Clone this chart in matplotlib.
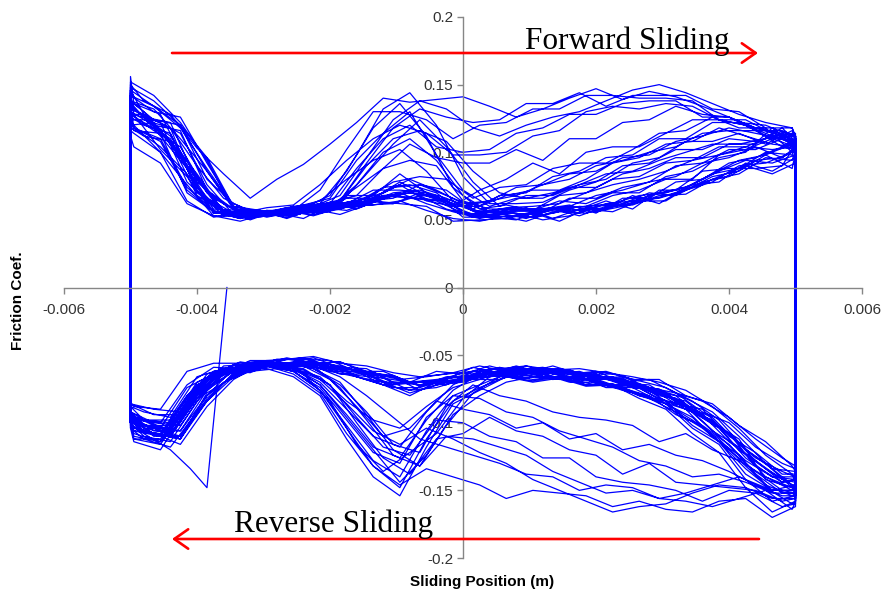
import matplotlib.pyplot as plt

plt.rcParams['font.family'] = 'Liberation Sans'

# sliding positions (m) sampled along a stroke; the logger's sample points
# drift between strokes, so three position sets are used in turn
pos_a = [-0.005, -0.0048, -0.0044, -0.004, -0.0036, -0.0032, -0.0028, -0.0024, -0.002,
         -0.0016, -0.0012, -0.0008, -0.0004, 0.0, 0.0004, 0.0008, 0.0012, 0.0016, 0.002,
         0.0024, 0.0028, 0.0032, 0.0036, 0.004, 0.0044, 0.0048, 0.005]
pos_b = [-0.005, -0.00465, -0.00425, -0.00385, -0.00345, -0.00305, -0.00265, -0.00225, -0.00185,
         -0.00145, -0.00105, -0.00065, -0.00025, 0.00015, 0.00055, 0.00095, 0.00135, 0.00175, 0.00215,
         0.00255, 0.00295, 0.00335, 0.00375, 0.00415, 0.00455, 0.00495, 0.005]
pos_c = [-0.005, -0.00495, -0.00455, -0.00415, -0.00375, -0.00335, -0.00295, -0.00255, -0.00215,
         -0.00175, -0.00135, -0.00095, -0.00055, -0.00015, 0.00025, 0.00065, 0.00105, 0.00145, 0.00185,
         0.00225, 0.00265, 0.00305, 0.00345, 0.00385, 0.00425, 0.00465, 0.005]
pos_sets = [pos_a, pos_b, pos_c]

# start of the run (stroke begins mid-track, moving towards -x)
start_pos = [-0.00355, -0.00385, -0.0041, -0.0044, -0.0048, -0.005]
start_mu = [0, -148, -134, -120, -108, -98]

# friction coefficient x1000, forward strokes in run order
fwd_mu = [
    [150, 138, 128, 103, 84, 66, 80, 91, 106, 122, 140, 137, 139, 141, 134, 126, 132, 140, 147, 139, 145, 141, 134, 126, 118, 112, 108],
    [128, 116, 104, 70, 58, 52, 57, 53, 59, 61, 68, 66, 64, 52, 55, 51, 58, 53, 60, 61, 68, 69, 80, 84, 96, 94, 102],
    [140, 134, 112, 88, 55, 56, 53, 60, 62, 86, 118, 136, 112, 74, 58, 61, 57, 68, 70, 80, 82, 92, 94, 104, 104, 112, 106],
    [135, 126, 122, 78, 62, 51, 56, 57, 62, 63, 74, 76, 70, 55, 52, 50, 58, 61, 55, 66, 66, 78, 80, 92, 96, 104, 102],
    [120, 122, 96, 66, 55, 57, 51, 58, 54, 61, 62, 68, 58, 53, 53, 49, 56, 57, 64, 58, 72, 72, 82, 86, 98, 88, 100],
    [116, 114, 100, 64, 52, 55, 53, 54, 57, 60, 61, 64, 57, 51, 49, 53, 52, 56, 55, 60, 63, 68, 74, 82, 90, 84, 92],
    [132, 128, 106, 80, 57, 52, 56, 59, 68, 98, 132, 144, 120, 82, 62, 62, 63, 72, 78, 90, 92, 102, 102, 110, 108, 114, 108],
    [142, 130, 126, 92, 60, 56, 57, 54, 58, 64, 66, 76, 68, 60, 54, 59, 51, 58, 58, 68, 62, 74, 84, 94, 98, 106, 108],
    [112, 104, 92, 62, 53, 49, 55, 55, 59, 57, 64, 62, 60, 49, 50, 51, 55, 49, 58, 56, 64, 64, 76, 78, 92, 86, 96],
    [126, 120, 114, 72, 53, 53, 55, 58, 59, 76, 100, 110, 94, 68, 56, 57, 56, 66, 66, 74, 78, 90, 92, 102, 102, 110, 104],
    [138, 132, 110, 86, 59, 53, 58, 56, 60, 62, 70, 72, 66, 57, 56, 54, 59, 55, 62, 64, 70, 74, 84, 88, 100, 98, 108],
    [130, 128, 102, 82, 55, 54, 56, 60, 55, 68, 68, 84, 70, 62, 55, 56, 57, 64, 62, 70, 70, 82, 86, 96, 100, 118, 104],
    [146, 128, 118, 90, 66, 56, 55, 51, 61, 60, 68, 66, 64, 55, 54, 55, 50, 53, 60, 62, 70, 68, 78, 82, 94, 96, 104],
    [148, 138, 120, 96, 60, 57, 53, 59, 62, 84, 106, 124, 104, 78, 60, 68, 68, 76, 80, 92, 96, 108, 108, 114, 106, 116, 110],
    [124, 118, 110, 74, 57, 52, 55, 58, 64, 80, 94, 102, 86, 64, 54, 59, 60, 62, 70, 76, 80, 86, 94, 98, 104, 102, 104],
    [124, 124, 118, 70, 57, 50, 57, 57, 63, 58, 66, 70, 68, 52, 52, 53, 58, 58, 56, 60, 68, 72, 86, 88, 88, 90, 106],
    [132, 124, 114, 76, 54, 55, 52, 57, 58, 64, 62, 70, 62, 54, 58, 52, 55, 60, 58, 64, 66, 72, 78, 90, 92, 100, 100],
    [136, 118, 104, 84, 58, 57, 52, 56, 56, 66, 66, 78, 68, 64, 56, 58, 58, 59, 60, 68, 72, 80, 80, 98, 102, 110, 104],
    [118, 112, 108, 68, 56, 54, 54, 55, 63, 68, 88, 94, 90, 64, 58, 58, 58, 60, 68, 72, 78, 82, 92, 96, 104, 96, 102],
    [142, 134, 118, 88, 60, 55, 56, 58, 64, 90, 110, 116, 108, 86, 70, 66, 70, 76, 84, 86, 94, 100, 106, 106, 110, 114, 108],
    [126, 118, 108, 72, 56, 51, 55, 58, 55, 62, 64, 70, 62, 56, 51, 55, 54, 58, 60, 62, 68, 70, 76, 86, 94, 92, 98],
    [138, 130, 108, 84, 56, 53, 57, 61, 66, 94, 114, 130, 98, 72, 60, 66, 66, 74, 74, 84, 88, 96, 96, 106, 106, 118, 108],
    [130, 120, 116, 72, 58, 53, 58, 57, 61, 64, 74, 76, 72, 58, 68, 70, 82, 86, 96, 98, 110, 110, 122, 122, 120, 112, 112],
    [122, 120, 100, 76, 53, 53, 54, 57, 57, 63, 66, 76, 64, 60, 60, 68, 72, 72, 80, 92, 96, 106, 108, 118, 112, 106, 104],
    [134, 126, 108, 80, 57, 54, 56, 58, 58, 64, 70, 80, 72, 62, 64, 74, 76, 84, 86, 96, 98, 108, 112, 118, 114, 110, 108],
    [138, 124, 120, 80, 62, 54, 59, 59, 62, 66, 78, 82, 80, 66, 74, 76, 88, 92, 92, 102, 114, 116, 126, 118, 118, 100, 110],
    [126, 116, 114, 70, 56, 51, 57, 53, 59, 62, 72, 72, 70, 60, 72, 80, 92, 84, 100, 104, 104, 114, 124, 124, 120, 112, 114],
    [128, 122, 110, 74, 55, 52, 56, 56, 60, 62, 68, 70, 66, 60, 64, 68, 76, 80, 90, 94, 100, 104, 114, 116, 116, 104, 110],
    [152, 142, 122, 94, 58, 56, 56, 61, 64, 92, 118, 132, 126, 122, 124, 136, 136, 144, 134, 142, 142, 142, 132, 130, 118, 118, 110],
    [144, 128, 122, 78, 60, 53, 57, 57, 72, 102, 130, 130, 124, 110, 120, 122, 132, 132, 142, 142, 140, 140, 138, 124, 120, 110, 112],
    [134, 126, 112, 82, 55, 54, 54, 60, 62, 88, 110, 120, 104, 100, 102, 114, 118, 128, 128, 136, 138, 138, 126, 126, 116, 116, 112],
    [146, 134, 120, 86, 58, 54, 56, 60, 68, 96, 124, 138, 132, 118, 112, 120, 126, 130, 138, 146, 150, 144, 136, 128, 122, 118, 112],
    [156, 136, 128, 90, 66, 55, 59, 61, 76, 94, 110, 120, 114, 98, 98, 100, 112, 116, 130, 134, 132, 136, 134, 124, 124, 114, 112],
    [128, 128, 108, 80, 54, 54, 54, 59, 60, 74, 88, 106, 96, 92, 92, 102, 94, 110, 110, 122, 124, 134, 128, 126, 118, 114, 106],
]

# friction coefficient x1000, reverse strokes in run order (listed from +x to -x)
rev_mu = [
    [-140, -136, -126, -108, -96, -80, -76, -68, -67, -62, -63, -59, -64, -65, -69, -70, -67, -61, -59, -55, -56, -57, -61, -70, -100, -98, -92],
    [-150, -146, -134, -120, -98, -90, -76, -74, -66, -68, -62, -64, -59, -66, -70, -76, -66, -62, -55, -56, -52, -57, -60, -80, -106, -106, -94],
    [-146, -150, -134, -114, -96, -86, -74, -73, -66, -68, -62, -64, -62, -72, -92, -118, -110, -90, -70, -60, -55, -61, -62, -80, -108, -106, -96],
    [-134, -130, -118, -100, -92, -78, -74, -66, -67, -61, -61, -60, -66, -66, -68, -70, -72, -62, -62, -55, -58, -58, -60, -66, -96, -92, -88],
    [-148, -150, -140, -118, -106, -88, -82, -72, -72, -66, -68, -62, -64, -59, -68, -74, -74, -64, -61, -54, -56, -55, -66, -84, -110, -110, -96],
    [-154, -158, -142, -116, -104, -86, -80, -72, -72, -66, -68, -64, -72, -80, -106, -140, -128, -102, -76, -62, -56, -62, -63, -84, -112, -112, -100],
    [-132, -126, -112, -96, -84, -78, -68, -70, -62, -64, -59, -61, -60, -67, -70, -80, -72, -66, -57, -57, -56, -57, -58, -76, -102, -102, -92],
    [-152, -154, -146, -124, -110, -90, -84, -74, -74, -66, -68, -62, -68, -68, -70, -72, -70, -60, -59, -52, -56, -57, -68, -88, -116, -108, -102],
    [-142, -140, -128, -110, -92, -84, -72, -72, -65, -67, -61, -66, -64, -76, -98, -126, -118, -94, -72, -60, -58, -55, -64, -74, -104, -100, -94],
    [-138, -138, -122, -110, -90, -86, -74, -72, -65, -67, -61, -63, -58, -64, -62, -70, -62, -62, -54, -53, -53, -60, -60, -78, -104, -104, -93],
    [-154, -148, -142, -112, -100, -84, -80, -70, -68, -62, -64, -58, -63, -62, -72, -70, -72, -64, -64, -56, -58, -58, -66, -78, -112, -104, -100],
    [-158, -166, -148, -122, -108, -90, -82, -72, -73, -67, -70, -66, -76, -86, -118, -154, -140, -112, -80, -66, -60, -60, -68, -90, -120, -114, -104],
    [-144, -142, -128, -114, -94, -84, -72, -71, -64, -67, -62, -65, -62, -69, -69, -76, -67, -65, -57, -57, -55, -63, -61, -72, -98, -98, -88],
    [-136, -132, -114, -102, -86, -80, -68, -68, -62, -64, -58, -63, -61, -67, -66, -73, -65, -63, -55, -56, -53, -59, -57, -68, -94, -94, -86],
    [-140, -140, -126, -104, -92, -78, -74, -66, -68, -62, -64, -61, -68, -74, -88, -104, -98, -84, -66, -60, -54, -60, -59, -72, -100, -98, -90],
    [-142, -144, -132, -108, -96, -82, -77, -67, -68, -61, -63, -58, -64, -63, -69, -70, -70, -61, -60, -52, -54, -54, -63, -72, -106, -98, -95],
    [-144, -138, -124, -104, -88, -76, -70, -66, -63, -60, -61, -58, -60, -62, -64, -66, -63, -58, -56, -51, -53, -55, -58, -64, -92, -90, -86],
    [-150, -150, -138, -114, -102, -84, -80, -71, -72, -66, -69, -66, -74, -84, -112, -148, -132, -108, -78, -64, -58, -63, -64, -86, -114, -108, -100],
    [-152, -152, -138, -116, -102, -94, -80, -76, -70, -70, -64, -66, -64, -70, -72, -78, -70, -66, -60, -58, -60, -62, -70, -92, -118, -112, -104],
    [-146, -146, -130, -116, -96, -88, -75, -74, -67, -69, -63, -67, -66, -78, -102, -132, -124, -98, -74, -58, -58, -57, -65, -80, -110, -104, -97],
    [-136, -134, -120, -98, -84, -74, -69, -64, -64, -60, -60, -62, -58, -63, -66, -68, -64, -60, -58, -53, -54, -56, -56, -62, -90, -88, -85],
    [-142, -144, -128, -108, -94, -82, -76, -70, -66, -64, -63, -62, -66, -82, -108, -122, -136, -116, -84, -64, -57, -59, -62, -78, -106, -102, -94],
    [-146, -148, -130, -110, -92, -82, -76, -70, -66, -65, -62, -61, -63, -65, -67, -72, -66, -64, -58, -55, -57, -58, -62, -74, -102, -100, -92],
    [-150, -150, -132, -112, -98, -86, -78, -72, -68, -66, -66, -70, -80, -94, -124, -144, -120, -96, -72, -60, -56, -58, -64, -82, -110, -106, -96],
    [-152, -150, -136, -120, -104, -92, -82, -74, -72, -68, -67, -64, -66, -68, -74, -76, -72, -66, -62, -57, -56, -60, -64, -82, -110, -106, -98],
    [-150, -148, -140, -128, -120, -108, -114, -102, -98, -96, -92, -84, -80, -72, -88, -122, -116, -92, -72, -60, -56, -58, -62, -76, -106, -102, -94],
    [-152, -152, -144, -138, -140, -132, -128, -118, -112, -106, -96, -92, -82, -80, -96, -130, -122, -98, -74, -62, -58, -60, -62, -84, -114, -110, -100],
    [-154, -154, -146, -136, -128, -124, -116, -120, -108, -112, -100, -104, -94, -90, -84, -104, -110, -88, -68, -58, -56, -58, -62, -80, -108, -104, -96],
    [-158, -164, -150, -156, -162, -158, -156, -148, -146, -150, -140, -138, -130, -124, -118, -112, -96, -80, -66, -58, -56, -60, -64, -82, -112, -108, -98],
    [-156, -156, -148, -146, -152, -160, -162, -166, -158, -150, -142, -130, -122, -112, -104, -116, -106, -86, -68, -60, -57, -59, -63, -80, -110, -104, -96],
    [-156, -158, -150, -148, -146, -144, -130, -138, -124, -120, -110, -106, -96, -108, -112, -138, -126, -100, -72, -60, -57, -60, -63, -82, -110, -106, -98],
    [-158, -160, -148, -140, -146, -152, -156, -150, -152, -144, -136, -124, -118, -112, -110, -132, -120, -94, -70, -60, -56, -59, -63, -84, -112, -108, -98],
    [-162, -170, -156, -158, -166, -164, -158, -162, -154, -152, -150, -156, -146, -140, -134, -146, -132, -104, -76, -62, -58, -61, -66, -88, -116, -112, -100],
    [-160, -162, -152, -150, -158, -150, -146, -144, -140, -126, -126, -114, -110, -100, -98, -124, -118, -96, -72, -61, -57, -60, -64, -84, -114, -110, -100],
]

x_ticks = [-0.006, -0.004, -0.002, 0, 0.002, 0.004, 0.006]
x_labels = ['-0.006', '-0.004', '-0.002', '0', '0.002', '0.004', '0.006']
y_ticks = [-0.2, -0.15, -0.1, -0.05, 0, 0.05, 0.1, 0.15, 0.2]
y_labels = ['-0.2', '-0.15', '-0.1', '-0.05', '0', '0.05', '0.1', '0.15', '0.2']

# chain the strokes into one continuous trace
xs = list(start_pos)
ys = [m / 1000 for m in start_mu]
for k, (f, r) in enumerate(zip(fwd_mu, rev_mu)):
    pos = pos_sets[k % 3]
    xs += pos
    ys += [m / 1000 for m in f]
    xs += pos[::-1]
    ys += [m / 1000 for m in r]

fig = plt.figure(figsize=(8.82, 5.90), dpi=100)
ax = fig.add_axes([64 / 882, 32 / 590, 798 / 882, 541 / 590])

ax.plot(xs, ys, color='#0000ff', lw=0.9)

ax.set_xlim(-0.006, 0.006)
ax.set_ylim(-0.2, 0.2)
ax.spines['left'].set_position(('data', 0))
ax.spines['bottom'].set_position(('data', 0))
ax.spines['top'].set_visible(False)
ax.spines['right'].set_visible(False)
for s in ('left', 'bottom'):
    ax.spines[s].set_color('#868686')
    ax.spines[s].set_linewidth(1.0)

ax.set_xticks(x_ticks)
ax.set_xticklabels(x_labels)
ax.set_yticks(y_ticks)
ax.set_yticklabels(y_labels)
ax.tick_params(axis='x', direction='out', length=4, width=1, color='#868686',
               labelsize=11, labelcolor='#333333', pad=7)
ax.tick_params(axis='y', direction='out', length=4, width=1, color='#868686',
               labelsize=11, labelcolor='#333333', pad=3)

fig.text(18 / 882, 1 - 301 / 590, 'Friction Coef.', rotation=90, ha='center', va='center',
         fontsize=11, fontweight='bold')
fig.text(482 / 882, 1 - 582 / 590, 'Sliding Position (m)', ha='center', va='center',
         fontsize=11, fontweight='bold')

# direction arrows and captions
arrow = dict(arrowstyle='->,head_length=1.0,head_width=0.7', color='red', lw=1.9,
             mutation_scale=10, shrinkA=0, shrinkB=0)
ax.annotate('', xy=(758 / 882, 1 - 53 / 590), xytext=(172 / 882, 1 - 53 / 590),
            xycoords='figure fraction', textcoords='figure fraction', arrowprops=arrow)
ax.annotate('', xy=(172 / 882, 1 - 539 / 590), xytext=(759 / 882, 1 - 539 / 590),
            xycoords='figure fraction', textcoords='figure fraction', arrowprops=arrow)
fig.text(525 / 882, 1 - 49 / 590, 'Forward Sliding', family='Liberation Serif',
         fontsize=22.5, ha='left', va='baseline')
fig.text(234 / 882, 1 - 532 / 590, 'Reverse Sliding', family='Liberation Serif',
         fontsize=22.5, ha='left', va='baseline')

fig.savefig('out.png', dpi=100)
